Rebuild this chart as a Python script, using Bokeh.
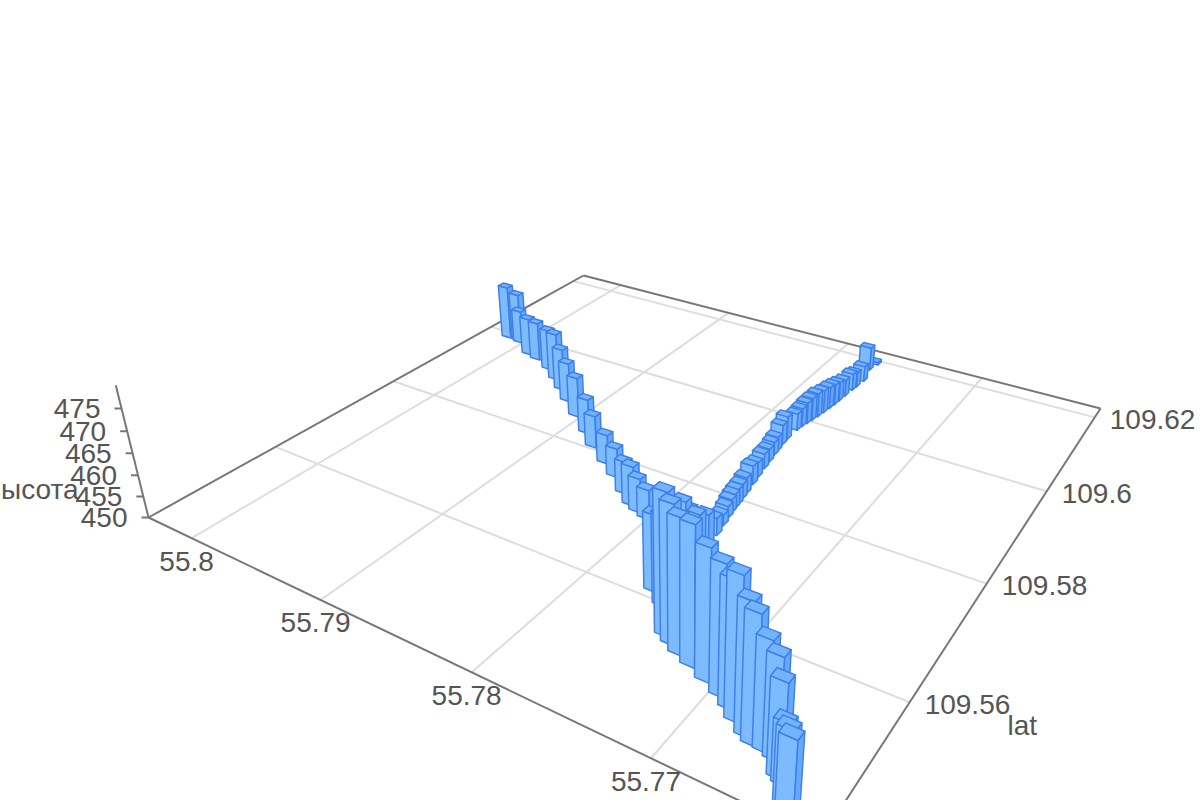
import numpy as np
from bokeh.plotting import figure
from bokeh.embed import file_html
from bokeh.resources import INLINE
from bokeh.core.properties import value

# --- data ---
lon_ticks = [55.8, 55.79, 55.78, 55.77]
lat_ticks = [109.56, 109.58, 109.6, 109.62]
z_ticks = [450, 455, 460, 465, 470, 475]

back_lon = [55.80164,55.80066,55.80039,55.79867,55.79767,55.79602,55.79471,55.79349,55.79216,55.79048,55.78866,55.78729,55.78558,55.78423,55.78275,55.78173,55.78103,55.78026]
back_lat = [109.59915,109.59907,109.59877,109.59649,109.59589,109.59436,109.59252,109.59066,109.58853,109.58594,109.58325,109.58097,109.57874,109.57693,109.57460,109.57305,109.57235,109.57177]
back_z = [464.2,463.0,458.8,459.8,460.0,460.6,462.2,460.7,460.0,460.0,458.6,457.9,457.1,457.0,457.7,459.3,458.0,456.9]

front_lon = [55.77632,55.77532,55.77396,55.77338,55.77269,55.77177,55.77065,55.76958,55.76883,55.76820,55.76737,55.76688,55.76626,55.76566,55.76503,55.76470,55.76382,55.76336]
front_lat = [109.56153,109.56008,109.55643,109.55572,109.55491,109.55414,109.55316,109.55218,109.55127,109.55021,109.54913,109.54859,109.54845,109.54807,109.54648,109.54604,109.54306,109.54168]
front_z = [466.9,469.8,479.9,479.1,478.2,479.0,477.2,476.8,476.0,479.0,476.7,475.9,472.2,470.6,469.1,462.5,467.3,468.7]

right_lon = [55.77738,55.77721,55.77704,55.77711,55.77715,55.77722,55.77725,55.77729,55.77735,55.77742,55.77751,55.77760,55.77769,55.77779,55.77784,55.77785,55.77780,55.77770,55.77765,55.77753,55.77742,55.77728,55.77715,55.77700,55.77692,55.77683,55.77679,55.77674,55.77665,55.77650,55.77633,55.77621]
right_lat = [109.61737,109.61935,109.61399,109.61200,109.61084,109.60891,109.60726,109.60604,109.60482,109.60339,109.60206,109.60083,109.59982,109.59882,109.59767,109.59507,109.59362,109.59198,109.59096,109.58930,109.58768,109.58561,109.58399,109.58195,109.58075,109.57950,109.57861,109.57773,109.57669,109.57513,109.57319,109.57110]
right_z = [456.0,450.7,453.9,453.8,454.3,454.2,454.8,455.2,455.5,455.7,456.0,455.7,455.3,454.6,454.2,455.7,454.9,453.5,453.2,453.2,453.6,453.6,454.5,453.8,453.5,453.6,453.4,453.1,452.7,452.5,454.0,457.1]

joint_lon = [55.77633,55.77606,55.77570]
joint_lat = [109.56691,109.56725,109.56769]
joint_z = [464.2,462.5,461.4]

bar_lon = back_lon + front_lon + right_lon + joint_lon
bar_lat = back_lat + front_lat + right_lat + joint_lat
bar_z = back_z + front_z + right_z + joint_z

# --- box extents and bar footprint ---
LON_L, LON_F = 55.8037, 55.762
LAT_0, LAT_1 = 109.5423, 109.6227
Z0, Z_TOP = 450, 480
DLON, DLAT = 0.00082, 0.0011

# --- camera: floor corners on the page and the vertical vanishing point ---
L, B, R, F = (148, 517), (583, 275), (1100, 408), (820, 839)
def homography():
    src = [(0, 0), (0, 1), (1, 1), (1, 0)]; dst = [L, B, R, F]
    A, b = [], []
    for (u, v), (x, y) in zip(src, dst):
        A.append([u, v, 1, 0, 0, 0, -u*x, -v*x]); b.append(x)
        A.append([0, 0, 0, u, v, 1, -u*y, -v*y]); b.append(y)
    return np.append(np.linalg.solve(np.array(A, float), np.array(b, float)), 1).reshape(3, 3)
H = homography()
V = np.array([680.0, 2666.0, 1.0]); T = -0.0483/25

def hom(lon, lat):
    u = (LON_L-lon)/(LON_L-LON_F); v = (lat-LAT_0)/(LAT_1-LAT_0)
    return H @ np.array([u, v, 1.0])

def proj(lon, lat, z=Z0):
    q = hom(lon, lat) + (z-Z0)*T*V
    return q[0]/q[2], q[1]/q[2]

p = figure(width=1200, height=800, x_range=(0, 1200), y_range=(800, 0), toolbar_location=None,
           output_backend="svg", min_border=0)
p.axis.visible = False; p.grid.visible = False; p.outline_line_color = None

GRID, AXC, TXT = "#dddddd", "#777777", "#555555"
for lo in lon_ticks:
    a, b = proj(lo, LAT_0), proj(lo, LAT_1)
    p.line([a[0], b[0]], [a[1], b[1]], line_color=GRID, line_width=2)
for la in lat_ticks:
    a, b = proj(LON_L, la), proj(LON_F, la)
    p.line([a[0], b[0]], [a[1], b[1]], line_color=GRID, line_width=2)
for q0, q1 in [(L, B), (B, R), (R, F), (L, F)]:
    p.line([q0[0], q1[0]], [q0[1], q1[1]], line_color=AXC, line_width=2)
a0, a1 = proj(LON_L, LAT_0, Z0), proj(LON_L, LAT_0, Z_TOP)
p.line([a0[0], a1[0]], [a0[1], a1[1]], line_color=AXC, line_width=2)

order = sorted(range(len(bar_lon)), key=lambda i: -hom(bar_lon[i], bar_lat[i])[2])
xs, ys, cols = [], [], []
for i in order:
    lo, la, z = bar_lon[i], bar_lat[i], bar_z[i]
    l0, l1 = lo+DLON/2, lo-DLON/2
    a0_, a1_ = la-DLAT/2, la+DLAT/2
    for quad, c in [([(l0, a0_, Z0), (l1, a0_, Z0), (l1, a0_, z), (l0, a0_, z)], "#7dbbff"),
                    ([(l1, a0_, Z0), (l1, a1_, Z0), (l1, a1_, z), (l1, a0_, z)], "#66a9fb"),
                    ([(l0, a0_, z), (l1, a0_, z), (l1, a1_, z), (l0, a1_, z)], "#74b3fd")]:
        pts = [proj(*q) for q in quad]
        xs.append([q[0] for q in pts]); ys.append([q[1] for q in pts]); cols.append(c)
p.patches(xs, ys, fill_color=cols, line_color="#3f80e8", line_width=1.5, line_join="round")

def label(x, y, t, align="left"):
    p.text([x], [y], text=[t], text_font=value("Liberation Sans"), text_font_size="28px",
           text_color=TXT, text_align=align, text_baseline="middle")

for lo in lon_ticks:
    x, y = proj(lo, LAT_0)
    label(x-5, y+23, str(lo), "center")
for la in lat_ticks:
    x, y = proj(LON_F, la)
    label(x+15, y+2, str(la))
for z in z_ticks:
    x, y = proj(LON_L, LAT_0, z)
    p.line([x, x-7], [y, y], line_color=AXC, line_width=2)
    label(x-21, y, str(z), "right")
label(1007, 725, "lat")
label(78, 489, "высота", "right")

open("out.html", "w").write(file_html(p, INLINE))
